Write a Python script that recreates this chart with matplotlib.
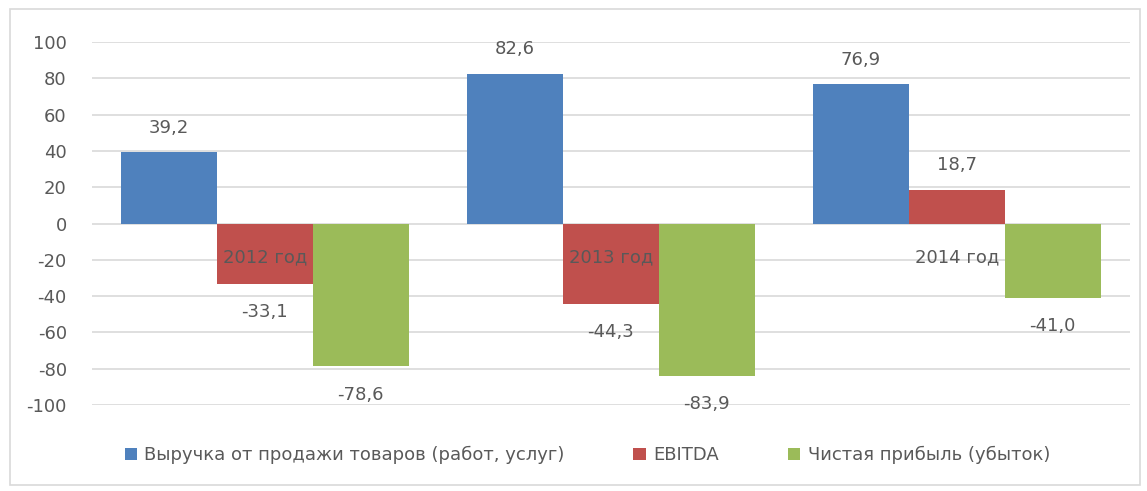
import numpy as np
import matplotlib.pyplot as plt
from matplotlib.patches import Rectangle

# chart data
years = ['2012 год', '2013 год', '2014 год']
revenue = [39.2, 82.6, 76.9]
ebitda = [-33.1, -44.3, 18.7]
net_profit = [-78.6, -83.9, -41.0]
series_names = ['Выручка от продажи товаров (работ, услуг)', 'EBITDA', 'Чистая прибыль (убыток)']
colors = ['#4F81BD', '#C0504D', '#9BBB59']

plt.rcParams['font.family'] = ['DejaVu Sans']
plt.rcParams['axes.unicode_minus'] = False
text_col = '#595959'

fig = plt.figure(figsize=(11.47, 4.91), dpi=100)
fig.patches.append(Rectangle((0.009, 0.012), 0.985, 0.97, transform=fig.transFigure,
                             fill=False, edgecolor='#D9D9D9', linewidth=1.2))
ax = fig.add_axes([0.080, 0.175, 0.905, 0.7395])

x = np.arange(len(years))
w = 0.277
for i, (vals, name, c) in enumerate(zip([revenue, ebitda, net_profit], series_names, colors)):
    pos = x + (i - 1) * w
    ax.bar(pos, vals, width=w, color=c, label=name, zorder=2)
    for p, v in zip(pos, vals):
        off = 17.5 if v > 0 else -20.5
        ax.annotate(f'{v:.1f}'.replace('.', ','), (p, v), xytext=(0, off),
                    textcoords='offset points', ha='center', va='center',
                    fontsize=13, color=text_col)

# category labels sit just below the zero line
for xi, lab in zip(x, years):
    ax.annotate(lab, (xi, 0), xytext=(0, -24), textcoords='offset points',
                ha='center', va='center', fontsize=13, color=text_col, zorder=3)

ax.set_xlim(-0.5, 2.5)
ax.set_ylim(-100, 100)
ax.set_yticks(range(-100, 101, 20))
ax.set_xticks([])
ax.yaxis.grid(True, color='#D9D9D9', linewidth=1.2, zorder=0)
ax.set_axisbelow(True)
ax.tick_params(axis='y', length=0, pad=18, labelsize=13, labelcolor=text_col)
for s in ax.spines.values():
    s.set_visible(False)

fig.legend(loc='center', bbox_to_anchor=(0.512, 0.073), ncol=3, frameon=False,
           fontsize=13, labelcolor=text_col, handlelength=0.7, handleheight=0.7,
           handletextpad=0.4, columnspacing=3.8)

fig.savefig('out.png', dpi=100)
